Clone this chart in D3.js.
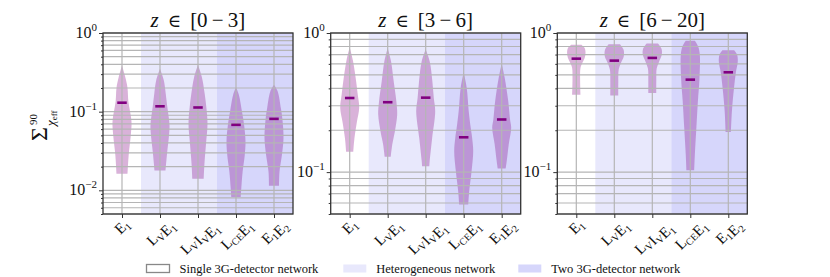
<!DOCTYPE html>
<html>
<head>
<meta charset="utf-8">
<script src="https://cdn.jsdelivr.net/npm/d3@7"></script>
<style>
body { margin: 0; background: #fff; }
text { font-family: "Liberation Serif", "DejaVu Serif", serif; fill: #111; }
</style>
</head>
<body>
<svg id="chart" width="830" height="277"></svg>
<script>
// data
var categories = ["E1", "LvE1", "LvIvE1", "LceE1", "E1E2"];
var tickLabels = [
  [["E", "1"]],
  [["L", "V"], ["E", "1"]],
  [["L", "V"], ["I", "V"], ["E", "1"]],
  [["L", "CE"], ["E", "1"]],
  [["E", "1"], ["E", "2"]]
];
var zRanges = [["0", "3"], ["3", "6"], ["6", "20"]];
var yMin = [0.005, 0.05, 0.05];
var medians = [
  [0.130, 0.117, 0.113, 0.068, 0.081],
  [0.341, 0.318, 0.343, 0.178, 0.239],
  [0.654, 0.633, 0.662, 0.462, 0.522]
];
// violin outlines, top to bottom: [value, relative width]
var violins0 = [
  [[0.388, 0], [0.267, 0.37], [0.20, 0.58], [0.135, 0.67], [0.075, 1.0], [0.051, 0.93], [0.028, 0.70], [0.0162, 0.58]],
  [[0.35, 0], [0.25, 0.4], [0.17, 0.6], [0.117, 0.76], [0.068, 1.0], [0.05, 0.95], [0.03, 0.75], [0.0179, 0.58]],
  [[0.395, 0], [0.27, 0.42], [0.17, 0.7], [0.113, 0.88], [0.07, 1.0], [0.04, 0.85], [0.022, 0.68], [0.014, 0.6]],
  [[0.204, 0], [0.164, 0.3], [0.10, 0.63], [0.068, 0.85], [0.042, 1.0], [0.028, 0.92], [0.0174, 0.7], [0.0107, 0.56], [0.0082, 0.5]],
  [[0.22, 0], [0.181, 0.39], [0.111, 0.72], [0.081, 0.88], [0.046, 1.0], [0.028, 0.83], [0.0174, 0.58], [0.0114, 0.53]]
];
var violins1 = [
  [[0.79, 0], [0.63, 0.35], [0.475, 0.63], [0.36, 0.85], [0.29, 1.0], [0.23, 0.76], [0.175, 0.5], [0.14, 0.38]],
  [[0.78, 0], [0.626, 0.35], [0.45, 0.63], [0.318, 0.92], [0.259, 1.0], [0.197, 0.76], [0.158, 0.48], [0.129, 0.32]],
  [[0.76, 0], [0.626, 0.42], [0.45, 0.7], [0.343, 0.85], [0.274, 1.0], [0.176, 0.68], [0.12, 0.42], [0.11, 0.38]],
  [[0.52, 0], [0.403, 0.32], [0.274, 0.53], [0.208, 0.74], [0.178, 0.88], [0.142, 1.0], [0.102, 0.83], [0.073, 0.58], [0.0586, 0.48]],
  [[0.60, 0], [0.475, 0.32], [0.323, 0.69], [0.239, 0.88], [0.208, 1.0], [0.158, 0.74], [0.12, 0.53], [0.106, 0.42]]
];
var violins2 = [
  [[0.824, 0.53], [0.78, 0.88], [0.718, 0.97], [0.662, 0.88], [0.609, 0.63], [0.561, 0.44], [0.475, 0.4], [0.36, 0.44]],
  [[0.83, 0.6], [0.76, 0.97], [0.68, 1.0], [0.609, 0.7], [0.545, 0.46], [0.45, 0.42], [0.355, 0.42]],
  [[0.84, 0.6], [0.77, 0.97], [0.70, 1.0], [0.62, 0.7], [0.555, 0.46], [0.46, 0.42], [0.371, 0.42]],
  [[0.88, 0.48], [0.80, 0.83], [0.70, 1.0], [0.462, 0.96], [0.323, 0.8], [0.208, 0.64], [0.134, 0.48], [0.103, 0.41]],
  [[0.751, 0.62], [0.70, 0.92], [0.626, 1.0], [0.522, 0.8], [0.403, 0.6], [0.28, 0.39], [0.194, 0.28]]
];
var violins = [violins0, violins1, violins2];
var legendItems = ["Single 3G-detector network", "Heterogeneous network", "Two 3G-detector network"];

var serif = "'Liberation Serif', 'DejaVu Serif', serif";
var svg = d3.select("#chart");
var plotTop = 33, plotBottom = 214, panelW = 190;
var panelX = [103, 330.7, 557.3];
var bandColors = ["none", "#e8e8fc", "#d6d6fb"];
var gridColor = "#b5b5b5";

panelX.forEach(function (left, p) {
  var g = svg.append("g");
  var x = d3.scaleLinear().domain([-0.5, 4.5]).range([left, left + panelW]);
  var y = d3.scaleLog().domain([yMin[p], 1]).range([plotBottom, plotTop]);
  var unit = x(1) - x(0);

  // background bands
  g.append("rect").attr("x", x(0.5)).attr("y", plotTop).attr("width", x(2.5) - x(0.5)).attr("height", plotBottom - plotTop).style("fill", bandColors[1]);
  g.append("rect").attr("x", x(2.5)).attr("y", plotTop).attr("width", x(4.5) - x(2.5)).attr("height", plotBottom - plotTop).style("fill", bandColors[2]);

  // violins
  var area = d3.area()
    .y(function (d) { return y(d[0]); })
    .curve(d3.curveCatmullRom);
  violins[p].forEach(function (shape, i) {
    area.x0(function (d) { return x(i) - d[1] * unit * 0.25; })
        .x1(function (d) { return x(i) + d[1] * unit * 0.25; });
    g.append("path").attr("d", area(shape)).style("fill", "rgba(128,0,128,0.3)");
  });

  // grid
  var majors = [], minors = [];
  for (var e = Math.floor(Math.log10(yMin[p])); e <= 0; e++) {
    for (var k = 1; k <= 9; k++) {
      var v = k * Math.pow(10, e);
      if (v < yMin[p] * 0.999 || v > 1.0001) continue;
      if (k == 1) majors.push(v); else minors.push(v);
    }
  }
  majors.concat(minors).forEach(function (v) {
    g.append("line").attr("x1", left).attr("x2", left + panelW).attr("y1", y(v)).attr("y2", y(v))
      .style("stroke", gridColor).style("stroke-width", 1.2);
  });
  categories.forEach(function (c, i) {
    g.append("line").attr("x1", x(i)).attr("x2", x(i)).attr("y1", plotTop).attr("y2", plotBottom)
      .style("stroke", gridColor).style("stroke-width", 1.2);
  });

  // medians
  medians[p].forEach(function (m, i) {
    g.append("line").attr("x1", x(i) - unit * 0.125).attr("x2", x(i) + unit * 0.125)
      .attr("y1", y(m)).attr("y2", y(m)).style("stroke", "#800080").style("stroke-width", 2.6);
  });

  // axes
  var majAxis = d3.axisLeft(y).tickValues(majors).tickSize(4).tickFormat("");
  var minAxis = d3.axisLeft(y).tickValues(minors).tickSize(2).tickFormat("");
  g.append("g").attr("transform", "translate(" + left + ",0)").call(majAxis).call(function (a) { a.select(".domain").remove(); });
  g.append("g").attr("transform", "translate(" + left + ",0)").call(minAxis).call(function (a) { a.select(".domain").remove(); });
  g.selectAll(".tick line").style("stroke", "#333");
  var xAxis = d3.axisBottom(x).tickValues(d3.range(categories.length)).tickSize(4).tickFormat("");
  g.append("g").attr("transform", "translate(0," + plotBottom + ")").call(xAxis)
    .call(function (a) { a.select(".domain").remove(); a.selectAll("line").style("stroke", "#333"); });

  g.append("rect").attr("x", left).attr("y", plotTop).attr("width", panelW).attr("height", plotBottom - plotTop)
    .style("fill", "none").style("stroke", "#333").style("stroke-width", 1.3);

  // y tick labels
  majors.forEach(function (v) {
    var ex = Math.round(Math.log10(v));
    var t = g.append("text").attr("x", left - 6).attr("y", y(v) + 5).attr("text-anchor", "end")
      .style("font-family", serif).style("font-size", "16px");
    t.append("tspan").text("10");
    t.append("tspan").attr("dy", -7).style("font-size", "11px").text(ex == 0 ? "0" : "\u2212" + (-ex));
  });

  // x tick labels, rotated and centred under the tick
  tickLabels.forEach(function (parts, i) {
    var t = g.append("text").attr("text-anchor", "middle").attr("dy", "0.32em")
      .style("font-family", serif).style("font-size", "15px");
    parts.forEach(function (pt) {
      t.append("tspan").text(pt[0]);
      t.append("tspan").attr("dy", 3).style("font-size", "10px").text(pt[1]);
      t.append("tspan").attr("dy", -3).text("");
    });
    var w = t.node().getComputedTextLength();
    var cy = plotBottom + 3 + (w + 13) / (2 * Math.SQRT2);
    t.attr("transform", "translate(" + x(i) + "," + cy + ") rotate(-45)");
  });

  // title
  var tt = g.append("text").attr("x", left + panelW / 2).attr("y", 27).attr("text-anchor", "middle")
    .style("font-family", serif).style("font-size", "21px");
  tt.append("tspan").style("font-style", "italic").text("z");
  tt.append("tspan").style("font-family", "'DejaVu Serif', serif").style("font-size", "18px").text("\u2002\u2208\u2002");
  tt.append("tspan").text("[" + zRanges[p][0] + "\u2009\u2212\u2009" + zRanges[p][1] + "]");
});

// y label
var yl = svg.append("g").attr("transform", "translate(47,126) rotate(-90)").style("font-family", serif);
yl.append("text").attr("x", -15).attr("y", 0).style("font-size", "24px").text("\u03A3");
yl.append("text").attr("x", 1).attr("y", -10).style("font-size", "11px").text("90");
var sub = yl.append("text").attr("x", 0).attr("y", 8).style("font-size", "13px");
sub.append("tspan").style("font-style", "italic").text("\u03C7");
sub.append("tspan").attr("dy", 2).style("font-size", "9px").text("eff");

// legend
var legX = [146.5, 343.3, 518.3];
legendItems.forEach(function (name, i) {
  svg.append("rect").attr("x", legX[i]).attr("y", 264.5).attr("width", 23).attr("height", 8)
    .style("fill", i == 0 ? "#fff" : bandColors[i])
    .style("stroke", i == 0 ? "#888" : "none").style("stroke-width", 1.3);
  svg.append("text").attr("x", legX[i] + 33).attr("y", 272.5).style("font-family", serif).style("font-size", "12.5px").text(name);
});
</script>
</body>
</html>
